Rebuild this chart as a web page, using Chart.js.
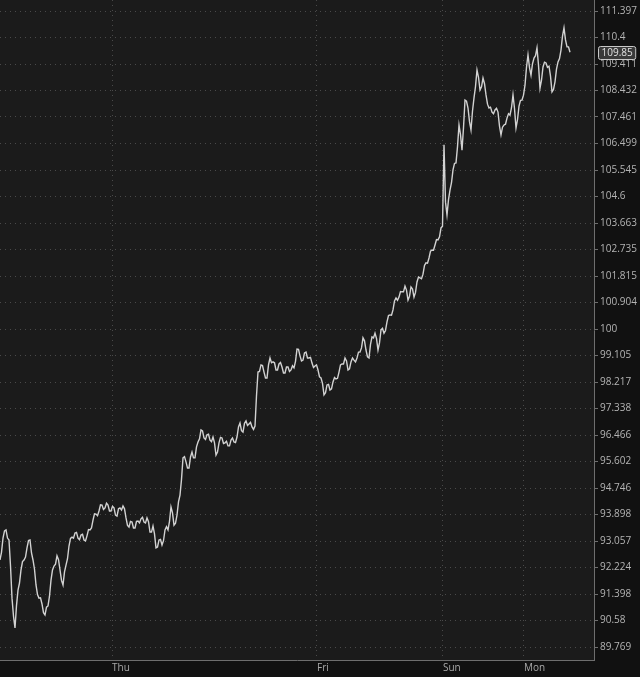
<!DOCTYPE html>
<html>
<head>
<meta charset="utf-8">
<script src="https://cdn.jsdelivr.net/npm/chart.js@4.4.1/dist/chart.umd.min.js"></script>
<style>
html,body{margin:0;padding:0;background:#111111;}
#wrap{width:640px;height:677px;position:relative;}
</style>
</head>
<body>
<div id="wrap"><canvas id="c" width="640" height="677"></canvas></div>
<script>
// price per bar (including visible wicks)
const prices = [
92.46,92.70,93.15,93.38,93.41,93.15,93.09,92.28,91.27,90.71,90.35,91.04,91.52,91.74,92.15,92.41,92.46,92.55,92.84,93.07,
93.09,92.68,92.46,92.17,91.68,91.38,91.27,91.28,91.09,90.82,90.75,90.99,91.03,91.33,91.83,92.15,92.27,92.33,92.59,92.47,
92.15,91.82,91.68,92.09,92.30,92.50,92.90,93.14,93.18,93.15,93.31,93.33,93.15,93.10,93.25,93.27,93.09,93.06,93.22,93.42,
93.41,93.47,93.72,93.92,93.91,93.86,94.01,94.21,94.20,94.06,94.11,94.26,94.20,94.01,94.01,94.16,94.11,93.88,93.85,94.08,
94.11,94.04,94.17,94.08,93.79,93.55,93.50,93.68,93.66,93.47,93.47,93.68,93.69,93.63,93.76,93.81,93.66,93.63,93.79,93.67,
93.34,93.34,93.53,93.28,92.84,92.87,93.09,93.11,92.93,93.07,93.41,93.51,93.41,93.68,94.14,93.95,93.56,93.62,93.88,94.30,
94.52,95.02,95.72,95.76,95.59,95.39,95.39,95.75,95.91,95.72,95.72,96.08,96.24,96.34,96.63,96.60,96.37,96.32,96.47,96.49,
96.30,96.25,96.40,96.21,95.81,95.91,96.21,96.39,96.37,96.19,96.21,96.26,96.11,96.11,96.30,96.37,96.24,96.22,96.40,96.73,
96.86,96.61,96.56,96.85,96.93,96.78,96.83,96.88,96.73,96.65,96.76,97.76,98.55,98.57,98.79,98.77,98.55,98.35,98.35,98.79,
99.02,98.86,98.89,98.86,98.62,98.62,98.82,98.87,98.72,98.52,98.52,98.72,98.72,98.57,98.62,98.76,98.69,98.91,99.32,99.31,
99.09,98.92,98.95,99.19,99.22,99.02,99.02,99.04,98.85,98.70,98.75,98.79,98.62,98.39,98.35,98.17,97.79,97.86,98.12,98.14,
97.95,97.99,98.22,98.37,98.32,98.34,98.55,98.79,98.82,98.82,99.02,98.92,98.62,98.66,98.89,99.02,98.95,98.89,99.02,99.22,
99.22,99.36,99.70,99.60,99.29,99.06,99.02,99.48,99.73,99.70,99.86,99.68,99.29,99.53,99.97,100.02,99.86,99.95,100.24,100.46,
100.48,100.47,100.65,100.96,101.06,100.98,101.09,101.28,101.27,101.27,101.47,101.33,100.99,101.12,101.44,101.37,101.09,101.25,101.61,101.78,
101.75,101.72,101.88,102.18,102.27,102.26,102.44,102.68,102.72,102.71,102.89,103.08,103.07,103.18,103.49,103.55,106.45,104.40,103.95,104.49,
104.83,105.09,105.55,105.78,105.80,106.38,107.17,106.82,106.26,107.07,108.08,108.04,107.79,107.29,106.99,107.68,108.16,108.58,109.19,108.92,
108.45,108.57,108.89,108.68,108.27,107.93,107.79,107.82,107.64,107.58,107.72,107.78,107.64,107.13,106.81,107.09,107.17,107.20,107.42,107.58,
107.53,107.80,108.27,107.77,107.06,107.36,107.86,108.07,108.08,108.26,108.63,109.29,109.75,109.28,109.00,109.42,109.63,109.72,110.01,109.37,
108.52,108.81,109.30,109.48,109.45,109.29,109.33,108.96,108.38,108.47,108.75,109.22,109.49,109.61,109.93,110.45,110.76,110.31,110.05,110.05,
109.85
];
const barIndex = prices.map((_, i) => i);
const xMaxIndex = 396;

const yTickValues = [111.397,110.4,109.411,108.432,107.461,106.499,105.545,104.6,103.663,102.735,101.815,100.904,100,99.105,98.217,97.338,96.466,95.602,94.746,93.898,93.057,92.224,91.398,90.58,89.769];
const yTickLabels = ['111.397','110.4','109.411','108.432','107.461','106.499','105.545','104.6','103.663','102.735','101.815','100.904','100','99.105','98.217','97.338','96.466','95.602','94.746','93.898','93.057','92.224','91.398','90.58','89.769'];
const yMin = 89.374, yMax = 111.814;

const dayLabels = ['Thu','Fri','Sun','Mon'];
const dayIndex = [74.67, 211.33, 295.33, 349.33];

const lastPrice = prices[prices.length - 1];

const bgPlugin = {
  id: 'bg',
  beforeDraw(chart) {
    const {ctx, chartArea: a} = chart;
    ctx.save();
    ctx.fillStyle = '#111111';
    ctx.fillRect(0, 0, chart.width, chart.height);
    ctx.fillStyle = '#1b1b1b';
    ctx.fillRect(a.left, a.top, a.right - a.left, a.bottom - a.top);
    ctx.restore();
  },
  afterDraw(chart) {
    const {ctx} = chart;
    const y = chart.scales.y.getPixelForValue(lastPrice);
    const a = chart.chartArea;
    ctx.save();
    ctx.font = '10px "Open Sans"';
    const txt = lastPrice.toFixed(2);
    const w = ctx.measureText(txt).width + 6;
    const x0 = a.right + 4, h = 13;
    ctx.fillStyle = '#3a3a3a';
    ctx.strokeStyle = '#c8c8c8';
    ctx.lineWidth = 1;
    ctx.beginPath();
    if (ctx.roundRect) ctx.roundRect(x0 + 0.5, Math.round(y - h / 2) + 0.5, w, h, 2);
    else ctx.rect(x0 + 0.5, Math.round(y - h / 2) + 0.5, w, h);
    ctx.fill();
    ctx.stroke();
    ctx.fillStyle = '#e0e0e0';
    ctx.textBaseline = 'middle';
    ctx.textAlign = 'left';
    ctx.fillText(txt, x0 + 3.5, Math.round(y) + 1);
    ctx.restore();
  }
};

new Chart(document.getElementById('c'), {
  type: 'line',
  data: {
    datasets: [{
      data: barIndex.map((x, i) => ({x: x, y: prices[i]})),
      borderColor: '#d2d2d2',
      borderWidth: 1.4,
      pointRadius: 0,
      tension: 0
    }]
  },
  options: {
    responsive: false,
    animation: false,
    layout: {padding: 0},
    plugins: {legend: {display: false}, tooltip: {enabled: false}},
    scales: {
      x: {
        type: 'linear',
        min: 0,
        max: xMaxIndex,
        afterBuildTicks(scale) { scale.ticks = dayIndex.map(v => ({value: v})); },
        afterFit(scale) { scale.height = 17; scale.paddingLeft = 0; scale.paddingRight = 0; },
        ticks: {
          autoSkip: false,
          maxRotation: 0,
          align: 'start',
          padding: 2,
          color: '#a8a8a8',
          font: {family: '"Open Sans"', size: 10},
          callback(v) { const i = dayIndex.indexOf(v); return i >= 0 ? dayLabels[i] : ''; }
        },
        grid: {color: '#4a4a4a', drawTicks: false, tickLength: 0},
        border: {display: true, color: '#6e6e6e', dash: [1, 4]}
      },
      y: {
        type: 'logarithmic',
        position: 'right',
        min: yMin,
        max: yMax,
        afterBuildTicks(scale) { scale.ticks = yTickValues.slice().reverse().map(v => ({value: v})); },
        afterFit(scale) { scale.width = 46; scale.paddingTop = 0; scale.paddingBottom = 0; },
        ticks: {
          autoSkip: false,
          padding: 2,
          color: '#b4b4b4',
          font: {family: '"Open Sans"', size: 10},
          callback(v) { const i = yTickValues.indexOf(v); return i >= 0 ? yTickLabels[i] : ''; }
        },
        grid: {color: '#4a4a4a', drawTicks: true, tickLength: 4, tickColor: '#6e6e6e', tickBorderDash: []},
        border: {display: true, color: '#6e6e6e', dash: [1, 4]}
      }
    }
  },
  plugins: [bgPlugin]
});
</script>
</body>
</html>
